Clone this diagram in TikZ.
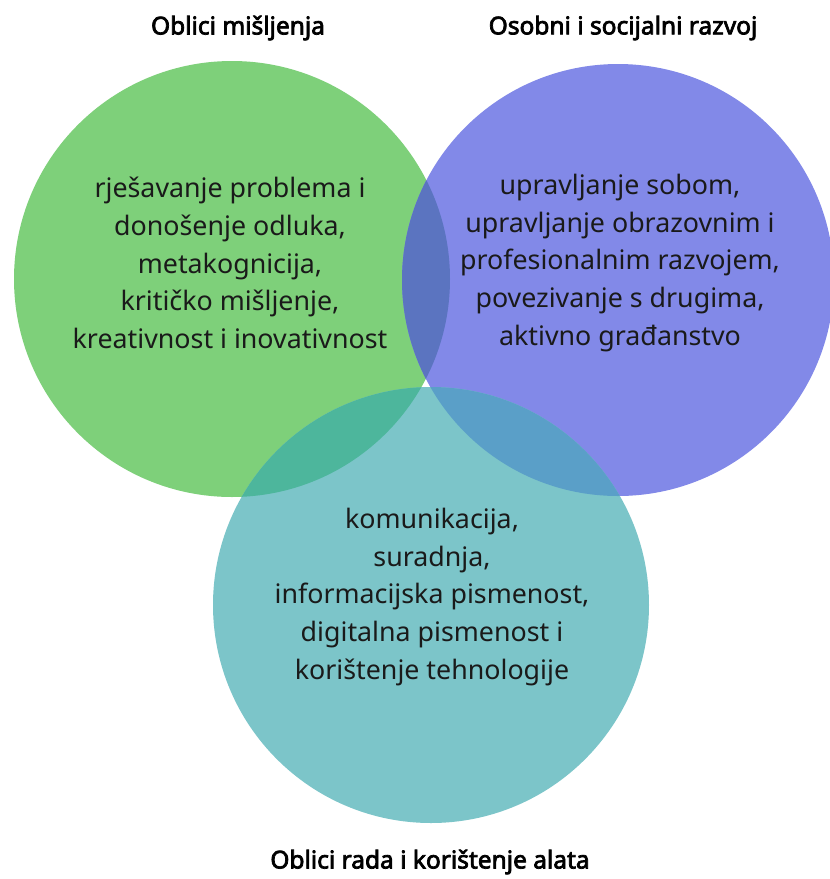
\documentclass[tikz,border=0pt]{standalone}
\usepackage{fontspec}
\setmainfont{Noto Sans}
\newfontfamily\titlefont{Noto Sans}[FakeBold=3]
\definecolor{cgreen}{HTML}{7ED07A}
\definecolor{cblue}{HTML}{8289E8}
\definecolor{cteal}{HTML}{7CC5C9}
\definecolor{cgb}{HTML}{5B74C0}
\definecolor{cgt}{HTML}{4DB69C}
\definecolor{cbt}{HTML}{5A9FC8}
\definecolor{ctext}{HTML}{1A1A1A}
\begin{document}
\begin{tikzpicture}[x=1pt,y=-1pt,
  body/.style={align=center,inner sep=0pt,text=ctext,font=\fontsize{26.8}{37.8}\selectfont},
  title/.style={inner sep=0pt,text=black,font=\titlefont\fontsize{24.5}{28}\selectfont}]
\useasboundingbox[fill=white] (0,0) rectangle (830,879);
\coordinate (G) at (232,279);
\coordinate (B) at (618,280);
\coordinate (T) at (431,605);
\fill[cgreen] (G) circle (218);
\fill[cblue] (B) circle (216);
\fill[cteal] (T) circle (218);
\begin{scope}\clip (G) circle (218); \fill[cgb] (B) circle (216);\end{scope}
\begin{scope}\clip (G) circle (218); \fill[cgt] (T) circle (218);\end{scope}
\begin{scope}\clip (B) circle (216); \fill[cbt] (T) circle (218);\end{scope}
\node[title] (tg) at (238,28) {Oblici mišljenja};
\node[title] (tb) at (623,28) {Osobni i socijalni razvoj};
\node[title] (tt) at (430,862) {Oblici rada i korištenje alata};
\node[body] (bg) at (230,263) {rješavanje problema i\\donošenje odluka,\\metakognicija,\\kritičko mišljenje,\\kreativnost i inovativnost};
\node[body] (bb) at (620,263) {upravljanje sobom,\\upravljanje obrazovnim i\\profesionalnim razvojem,\\povezivanje s drugima,\\aktivno građanstvo};
\node[body] (bt) at (432,597) {komunikacija,\\suradnja,\\informacijska pismenost,\\digitalna pismenost i\\korištenje tehnologije};
\end{tikzpicture}
\end{document}
